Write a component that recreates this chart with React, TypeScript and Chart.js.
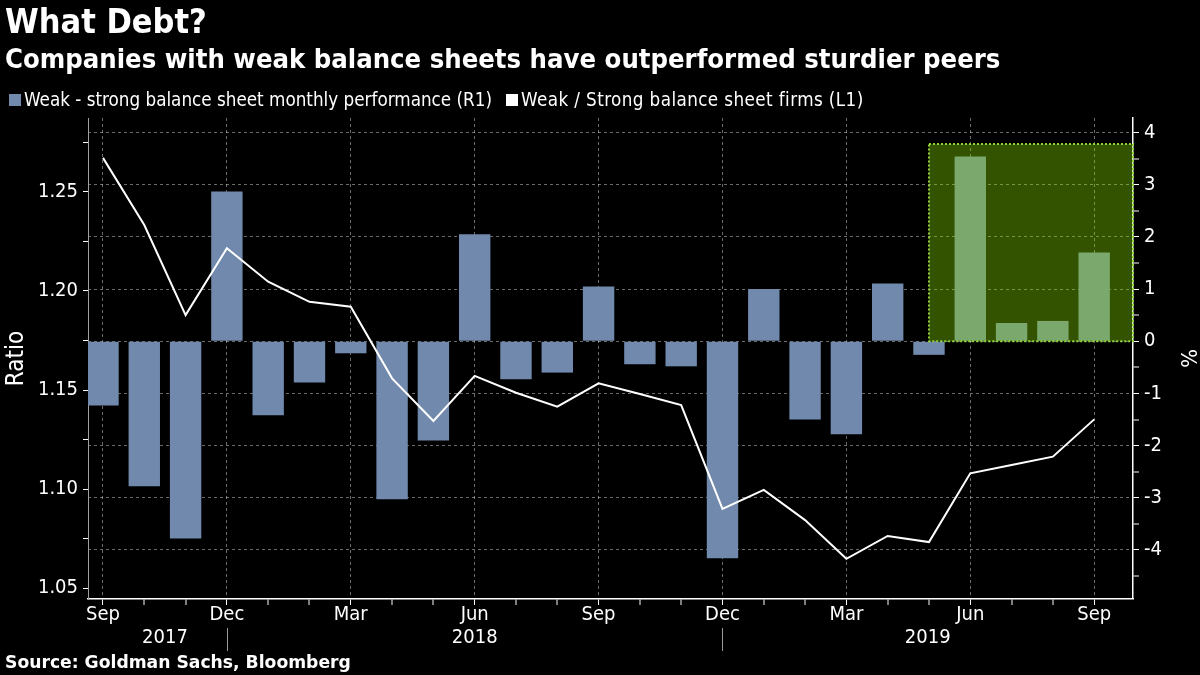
import React, { useEffect, useRef } from 'react';
import { Chart, registerables } from 'chart.js';

Chart.register(...registerables);

// ---------- data ----------
const categories = [
  'Sep 2017', 'Oct 2017', 'Nov 2017', 'Dec 2017',
  'Jan 2018', 'Feb 2018', 'Mar 2018', 'Apr 2018', 'May 2018', 'Jun 2018',
  'Jul 2018', 'Aug 2018', 'Sep 2018', 'Oct 2018', 'Nov 2018', 'Dec 2018',
  'Jan 2019', 'Feb 2019', 'Mar 2019', 'Apr 2019', 'May 2019', 'Jun 2019',
  'Jul 2019', 'Aug 2019', 'Sep 2019',
];
// Weak - strong balance sheet monthly performance (R1), %
const performance = [
  -1.23, -2.78, -3.78, 2.87,
  -1.42, -0.79, -0.23, -3.03, -1.9, 2.05,
  -0.73, -0.6, 1.05, -0.44, -0.48, -4.16,
  1.0, -1.5, -1.78, 1.11, -0.26, 3.54,
  0.35, 0.39, 1.7,
];
// Weak / Strong balance sheet firms (L1), ratio
const ratio = [
  1.2671, 1.2332, 1.1878, 1.2215,
  1.2046, 1.1945, 1.192, 1.1559, 1.1344, 1.1571,
  1.1486, 1.1416, 1.1534, 1.148, 1.1424, 1.09,
  1.0996, 1.0844, 1.0649, 1.0764, 1.0733, 1.108,
  1.1122, 1.1164, 1.1352,
];
const ratioTicks = [1.05, 1.1, 1.15, 1.2, 1.25];
const percentTicks = [-4, -3, -2, -1, 0, 1, 2, 3, 4];
const labelledMonths = ['Sep', 'Dec', 'Mar', 'Jun'];
const highlightFrom = 'May 2019';
const highlightTop = 3.78;

// axis ranges
const ratioMin = 1.0446;
const ratioMax = 1.2872;
const pctMin = -4.94;
const pctMax = 4.28;
const xMin = -0.363;
const xMax = 24.94;

const COND = '"DejaVu Sans Condensed", "DejaVu Sans", sans-serif';
const BAR_COLOR = '#7189ad';
const GRID_COLOR = 'rgba(255,255,255,0.42)';

const monthOf = (c: string) => c.split(' ')[0];
const yearOf = (c: string) => c.split(' ')[1];

const overlayPlugin = {
  id: 'overlays',
  afterDatasetsDraw(chart: any) {
    const { ctx, chartArea } = chart;
    const xs = chart.scales.x;
    const yr = chart.scales.yR;
    const x1 = xs.getPixelForValue(categories.indexOf(highlightFrom));
    const x2 = chartArea.right;
    const y1 = yr.getPixelForValue(highlightTop);
    const y2 = yr.getPixelForValue(0);
    ctx.save();
    ctx.fillStyle = 'rgba(140,224,0,0.37)';
    ctx.fillRect(x1, y1, x2 - x1, y2 - y1);
    ctx.setLineDash([2, 2]);
    ctx.strokeStyle = '#8fd13a';
    ctx.lineWidth = 2;
    ctx.strokeRect(x1, y1, x2 - x1, y2 - y1);
    ctx.restore();
  },
  afterDraw(chart: any) {
    const { ctx, chartArea } = chart;
    const xs = chart.scales.x;
    const sepIdx: number[] = [];
    categories.forEach((c, i) => {
      if (monthOf(c) === 'Dec' && i < categories.length - 1) sepIdx.push(i);
    });
    const years: string[] = [];
    categories.forEach((c) => {
      if (!years.includes(yearOf(c))) years.push(yearOf(c));
    });
    const bounds = [0, ...sepIdx, xs.max];
    ctx.save();
    ctx.strokeStyle = '#9a9a9a';
    ctx.lineWidth = 1;
    sepIdx.forEach((i) => {
      const x = Math.round(xs.getPixelForValue(i)) + 0.5;
      ctx.beginPath();
      ctx.moveTo(x, chartArea.bottom + 29);
      ctx.lineTo(x, chartArea.bottom + 52);
      ctx.stroke();
    });
    ctx.fillStyle = '#ffffff';
    ctx.font = `20px ${COND}`;
    ctx.textAlign = 'center';
    ctx.textBaseline = 'middle';
    years.forEach((y, k) => {
      const mid = (bounds[k] + bounds[k + 1]) / 2;
      ctx.fillText(y, xs.getPixelForValue(mid), chartArea.bottom + 39);
    });
    ctx.restore();
  },
};

export default function App() {
  const canvasRef = useRef<HTMLCanvasElement | null>(null);

  useEffect(() => {
    const canvas = canvasRef.current;
    if (!canvas) return;
    const barData = performance.map((v, i) => ({ x: i, y: v }));
    const lineData = ratio.map((v, i) => ({ x: i, y: v }));

    const isMajorRatio = (v: number) => ratioTicks.some((t) => Math.abs(t - v) < 1e-6);
    const isMajorPct = (v: number) => percentTicks.some((t) => Math.abs(t - v) < 1e-6);
    const isLabelledMonth = (v: number) =>
      Number.isInteger(v) && categories[v] !== undefined && labelledMonths.includes(monthOf(categories[v]));

    const chart = new Chart(canvas, {
      data: {
        datasets: [
          {
            type: 'line',
            label: 'Weak / Strong balance sheet firms (L1)',
            data: lineData,
            xAxisID: 'x',
            yAxisID: 'yL',
            borderColor: '#ffffff',
            borderWidth: 2,
            pointRadius: 0,
            tension: 0,
            order: 0,
          },
          {
            type: 'bar',
            label: 'Weak - strong balance sheet monthly performance (R1)',
            data: barData,
            xAxisID: 'x',
            yAxisID: 'yR',
            backgroundColor: BAR_COLOR,
            borderWidth: 0,
            categoryPercentage: 1,
            barPercentage: 0.76,
            order: 1,
          },
        ],
      } as any,
      options: {
        responsive: false,
        animation: false,
        maintainAspectRatio: false,
        layout: { padding: { top: 118, left: 0, right: 0, bottom: 0 } },
        plugins: {
          legend: { display: false },
          tooltip: { enabled: false },
          title: { display: false },
        },
        scales: {
          x: {
            type: 'linear',
            position: 'bottom',
            offset: false,
            min: xMin,
            max: xMax,
            afterBuildTicks: (scale: any) => {
              scale.ticks = categories.map((_, i) => ({ value: i }));
            },
            afterFit: (scale: any) => {
              scale.height = 76;
            },
            ticks: {
              autoSkip: false,
              maxRotation: 0,
              color: '#ffffff',
              font: { family: COND, size: 20 },
              padding: -2,
              callback: (v: any) => (isLabelledMonth(v) ? monthOf(categories[v]) : ''),
            },
            grid: {
              offset: false,
              color: (c: any) => (isLabelledMonth(c.tick?.value) ? GRID_COLOR : 'rgba(0,0,0,0)'),
              lineWidth: (c: any) => (isLabelledMonth(c.tick?.value) ? 1 : 0),
              tickColor: '#ffffff',
              tickWidth: 1,
              tickLength: 6,
            },
            border: { color: '#ffffff', width: 1.5, dash: [3, 3] },
          },
          yL: {
            type: 'linear',
            position: 'left',
            min: ratioMin,
            max: ratioMax,
            afterBuildTicks: (scale: any) => {
              const t: any[] = [];
              ratioTicks.forEach((v) => {
                t.push({ value: v });
                t.push({ value: +(v + 0.025).toFixed(3) });
              });
              scale.ticks = t;
            },
            afterFit: (scale: any) => {
              scale.width = 88;
            },
            ticks: {
              color: '#ffffff',
              font: { family: COND, size: 20 },
              padding: 5,
              callback: (v: any) => (isMajorRatio(v) ? Number(v).toFixed(2) : ''),
            },
            grid: {
              drawOnChartArea: false,
              tickColor: '#ffffff',
              tickWidth: 1,
              tickLength: 5,
            },
            border: { color: '#a0a0a0', width: 1 },
            title: {
              display: true,
              text: 'Ratio',
              color: '#ffffff',
              font: { family: COND, size: 24 },
              padding: { top: 2, bottom: 0 },
            },
          },
          yR: {
            type: 'linear',
            position: 'right',
            min: pctMin,
            max: pctMax,
            afterBuildTicks: (scale: any) => {
              const t: any[] = [];
              percentTicks.forEach((v) => {
                t.push({ value: v - 0.5 });
                t.push({ value: v });
              });
              scale.ticks = t;
            },
            afterFit: (scale: any) => {
              scale.width = 67;
            },
            ticks: {
              color: '#ffffff',
              font: { family: COND, size: 20 },
              padding: 5,
              callback: (v: any) => (isMajorPct(v) ? String(Math.round(v)) : ''),
            },
            grid: {
              color: (c: any) => (isMajorPct(c.tick?.value) ? GRID_COLOR : 'rgba(0,0,0,0)'),
              lineWidth: (c: any) => (isMajorPct(c.tick?.value) ? 1 : 0),
              tickColor: '#ffffff',
              tickWidth: 1,
              tickLength: 6,
            },
            border: { color: '#ffffff', width: 1.5, dash: [3, 3] },
            title: {
              display: true,
              text: '%',
              color: '#ffffff',
              font: { family: COND, size: 22 },
              padding: { top: 0, bottom: 4 },
            },
          },
        },
      } as any,
      plugins: [overlayPlugin],
    });
    return () => chart.destroy();
  }, []);

  const sq = (color: string): React.CSSProperties => ({
    display: 'inline-block',
    width: 12,
    height: 12,
    background: color,
    marginRight: 3,
    verticalAlign: 'middle',
    position: 'relative',
    top: -1,
  });

  return (
    <div style={{ position: 'fixed', left: 0, top: 0, width: 1200, height: 675, background: '#000', overflow: 'hidden' }}>
      <canvas ref={canvasRef} width={1200} height={675} style={{ position: 'absolute', left: 0, top: 0, display: 'block' }} />
      <div style={{ position: 'absolute', left: 5, top: 1, color: '#fff', fontFamily: COND, fontWeight: 'bold', fontSize: 34, lineHeight: '40px', whiteSpace: 'nowrap' }}>
        What Debt?
      </div>
      <div style={{ position: 'absolute', left: 5, top: 43, color: '#fff', fontFamily: COND, fontWeight: 'bold', fontSize: 27.2, lineHeight: '32px', whiteSpace: 'nowrap' }}>
        Companies with weak balance sheets have outperformed sturdier peers
      </div>
      <div style={{ position: 'absolute', left: 9, top: 88, color: '#fff', fontFamily: COND, fontSize: 18.7, lineHeight: '24px', whiteSpace: 'nowrap' }}>
        <span style={sq(BAR_COLOR)} />
        <span>Weak - strong balance sheet monthly performance (R1)</span>
        <span style={{ ...sq('#ffffff'), marginLeft: 14 }} />
        <span style={{ letterSpacing: '0.4px' }}>Weak / Strong balance sheet firms (L1)</span>
      </div>
      <div style={{ position: 'absolute', left: 5, top: 652, color: '#fff', fontFamily: '"DejaVu Sans", sans-serif', fontWeight: 'bold', fontSize: 17.2, lineHeight: '20px', whiteSpace: 'nowrap' }}>
        Source: Goldman Sachs, Bloomberg
      </div>
    </div>
  );
}
